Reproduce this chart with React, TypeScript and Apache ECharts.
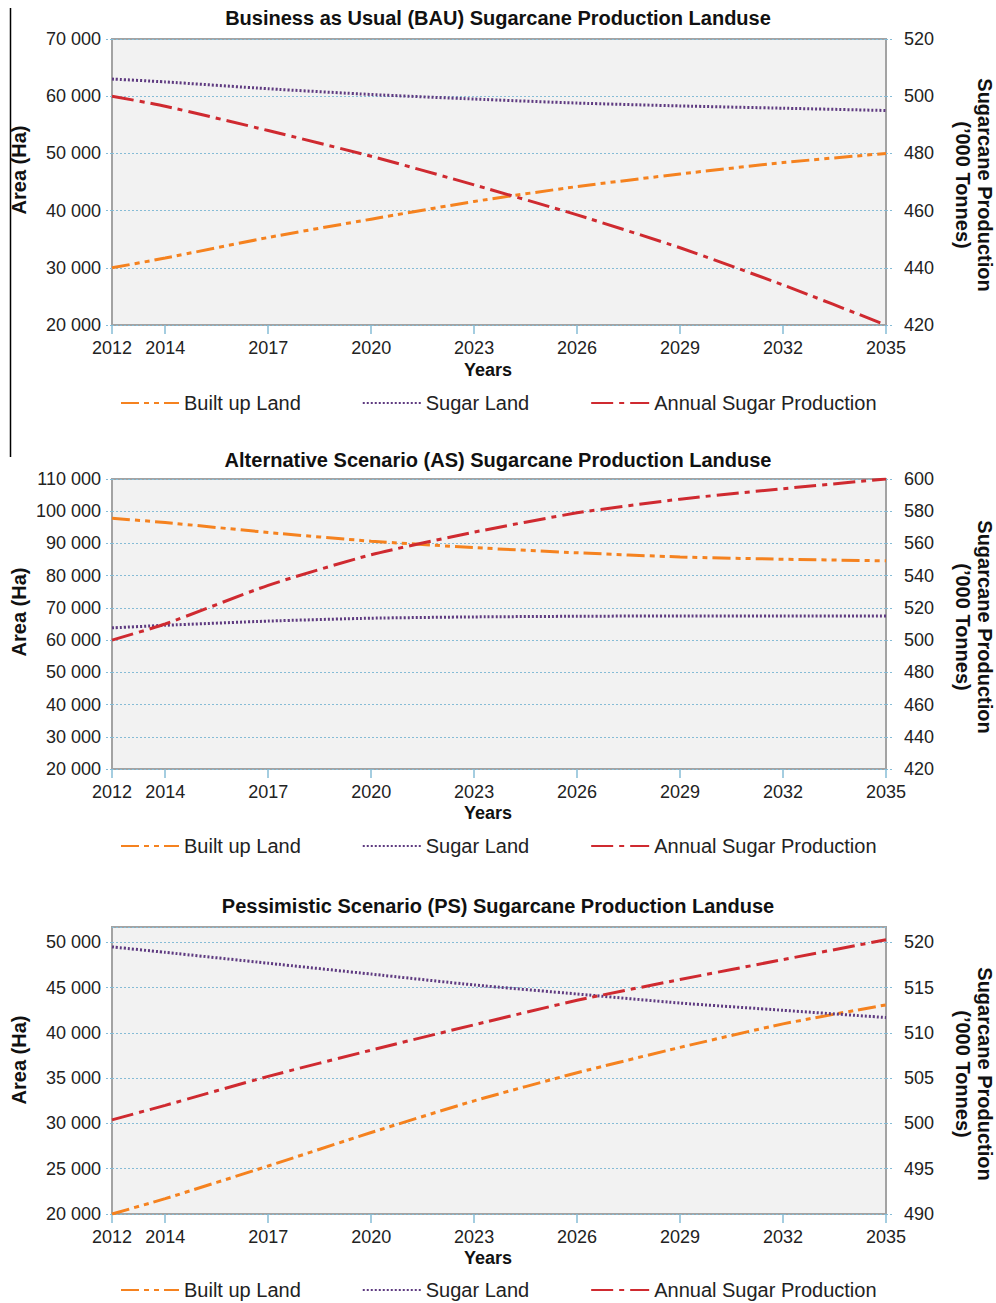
import React, { useEffect, useRef } from "react";
import * as echarts from "echarts";

const years = [2012, 2014, 2017, 2020, 2023, 2026, 2029, 2032, 2035];
const X_MIN = 2012.45;
const X_MAX = 2035;

const titles = [
  "Business as Usual (BAU) Sugarcane Production Landuse",
  "Alternative Scenario (AS) Sugarcane Production Landuse",
  "Pessimistic Scenario (PS) Sugarcane Production Landuse",
];
const seriesNames = ["Built up Land", "Sugar Land", "Annual Sugar Production"];

// BAU
const bauBuilt = [30000, 31700, 35300, 38500, 41600, 44200, 46400, 48400, 50000];
const bauSugar = [63000, 62500, 61300, 60300, 59500, 58800, 58300, 57900, 57500];
const bauProd = [500, 496.5, 488, 479, 469, 458.5, 447, 434, 420];
// AS
const asBuilt = [97800, 96500, 93400, 90700, 88700, 87100, 85800, 85100, 84600];
const asSugar = [63800, 64600, 65900, 66800, 67200, 67400, 67500, 67500, 67500];
const asProd = [500, 510, 534, 553, 567, 579, 587.5, 594, 600];
// PS
const psBuilt = [20000, 21700, 25300, 29000, 32500, 35600, 38400, 41000, 43100];
const psSugar = [49500, 48900, 47700, 46500, 45300, 44300, 43300, 42500, 41700];
const psProd = [500.4, 502.0, 505.2, 508.1, 510.9, 513.6, 515.9, 518.1, 520.3];

// axis ranges
const leftAxes = [
  { min: 20000, max: 70000, interval: 10000 },
  { min: 20000, max: 110000, interval: 10000 },
  { min: 20000, max: 51700, interval: 5000 },
];
const rightAxes = [
  { min: 420, max: 520, interval: 20 },
  { min: 420, max: 600, interval: 20 },
  { min: 490, max: 521.7, interval: 5 },
];

const FONT = "Liberation Sans, Arial, sans-serif";
const ORANGE = "#f5821f";
const PURPLE = "#5e3a80";
const RED = "#cf2a30";
const GRIDBLUE = "#86bcd6";

const grids = [
  { top: 39, height: 286 },
  { top: 479, height: 290 },
  { top: 927, height: 287 },
];
const legendTops = [393, 836, 1280];
const titleTops = [8, 450, 896];
const yearsY = [370, 813, 1258];
const areaY = [170, 612, 1060];
const prodY = [185, 627, 1074];

function fmtThousands(v: number) {
  return String(Math.round(v)).replace(/\B(?=(\d{3})+(?!\d))/g, " ");
}

function pts(vals: number[]) {
  return years.map((y, i) => [Math.max(y, X_MIN), vals[i]]);
}

export default function App() {
  const ref = useRef<HTMLDivElement>(null);
  useEffect(() => {
    document.body.style.margin = "0";
    if (!ref.current) return;
    const chart = echarts.init(ref.current, undefined, { renderer: "svg" });

    const data = [
      [bauBuilt, bauSugar, bauProd],
      [asBuilt, asSugar, asProd],
      [psBuilt, psSugar, psProd],
    ];

    const grid: any[] = [];
    const xAxis: any[] = [];
    const yAxis: any[] = [];
    const series: any[] = [];
    const legend: any[] = [];
    const title: any[] = [];
    const graphic: any[] = [];

    const customX = years.map((y) => Math.max(y, X_MIN));

    for (let c = 0; c < 3; c++) {
      grid.push({
        left: 112,
        width: 774,
        top: grids[c].top,
        height: grids[c].height,
        show: true,
        backgroundColor: "#f2f2f2",
        borderColor: "#a3a3a3",
        borderWidth: 2,
      });
      xAxis.push({
        type: "value",
        gridIndex: c,
        min: X_MIN,
        max: X_MAX,
        axisLine: { show: false },
        splitLine: { show: false },
        axisTick: {
          show: true,
          customValues: customX,
          length: 9,
          lineStyle: { color: GRIDBLUE, width: 1.5 },
        },
        axisLabel: {
          customValues: customX,
          formatter: (v: number) => {
            const i = customX.indexOf(v);
            return i >= 0 ? String(years[i]) : "";
          },
          margin: 14,
          color: "#222",
          fontSize: 18,
          fontFamily: FONT,
        },
      });
      const la = leftAxes[c];
      yAxis.push({
        type: "value",
        gridIndex: c,
        position: "left",
        min: la.min,
        max: la.max,
        interval: la.interval,
        axisLine: { show: false },
        axisTick: { show: true, length: 6, lineStyle: { color: GRIDBLUE, type: [2, 2] } },
        splitLine: { show: true, lineStyle: { color: GRIDBLUE, type: [2, 2], width: 1 } },
        axisLabel: {
          formatter: (v: number) => (v % la.interval === 0 ? fmtThousands(v) : ""),
          showMaxLabel: la.max % la.interval === 0,
          margin: 11,
          color: "#222",
          fontSize: 18,
          fontFamily: FONT,
        },
      });
      const ra = rightAxes[c];
      yAxis.push({
        type: "value",
        gridIndex: c,
        position: "right",
        min: ra.min,
        max: ra.max,
        interval: ra.interval,
        axisLine: { show: false },
        axisTick: { show: true, length: 7, lineStyle: { color: GRIDBLUE, type: [2, 2] } },
        splitLine: { show: false },
        axisLabel: {
          formatter: (v: number) => (Math.abs(v % ra.interval) < 1e-9 ? String(v) : ""),
          showMaxLabel: ra.max % ra.interval === 0,
          margin: 18,
          color: "#222",
          fontSize: 18,
          fontFamily: FONT,
        },
      });

      const [built, sugar, prod] = data[c];
      series.push({
        name: seriesNames[0],
        type: "line",
        xAxisIndex: c,
        yAxisIndex: c * 2,
        data: pts(built),
        smooth: 0.2,
        symbol: "none",
        lineStyle: { color: ORANGE, width: 3, type: [18, 5, 5, 5, 5, 5] },
        itemStyle: { color: ORANGE },
      });
      series.push({
        name: seriesNames[1],
        type: "line",
        xAxisIndex: c,
        yAxisIndex: c * 2,
        data: pts(sugar),
        smooth: 0.2,
        symbol: "none",
        lineStyle: { color: PURPLE, width: 3, type: [2, 2] },
        itemStyle: { color: PURPLE },
      });
      series.push({
        name: seriesNames[2],
        type: "line",
        xAxisIndex: c,
        yAxisIndex: c * 2 + 1,
        data: pts(prod),
        smooth: 0.2,
        symbol: "none",
        lineStyle: { color: RED, width: 3, type: [22, 6, 5, 6] },
        itemStyle: { color: RED },
      });

      legend.push({
        data: seriesNames,
        left: 120,
        top: legendTops[c],
        padding: 0,
        itemGap: 61,
        itemWidth: 58,
        itemHeight: 16,
        selectedMode: false,
        itemStyle: { color: "rgba(0,0,0,0)", borderWidth: 0, opacity: 0 },
        textStyle: { fontSize: 20, color: "#222", fontFamily: FONT },
      });

      title.push({
        text: titles[c],
        left: "center",
        top: titleTops[c],
        padding: 0,
        textStyle: { fontSize: 20, fontWeight: "bold", color: "#111", fontFamily: FONT },
      });

      graphic.push({
        type: "text",
        x: 488,
        y: yearsY[c],
        style: {
          text: "Years",
          fontSize: 18,
          fontWeight: "bold",
          fontFamily: FONT,
          fill: "#111",
          align: "center",
          verticalAlign: "middle",
        },
      });
      graphic.push({
        type: "text",
        x: 19,
        y: areaY[c],
        rotation: Math.PI / 2,
        style: {
          text: "Area (Ha)",
          fontSize: 20,
          fontWeight: "bold",
          fontFamily: FONT,
          fill: "#111",
          align: "center",
          verticalAlign: "middle",
        },
      });
      graphic.push({
        type: "text",
        x: 974,
        y: prodY[c],
        rotation: -Math.PI / 2,
        style: {
          text: "Sugarcane Production\n(\u2019000 Tonnes)",
          fontSize: 20,
          fontWeight: "bold",
          fontFamily: FONT,
          fill: "#111",
          align: "center",
          verticalAlign: "middle",
          lineHeight: 22,
        },
      });
    }

    graphic.push({
      type: "line",
      shape: { x1: 10.5, y1: 8, x2: 10.5, y2: 457 },
      style: { stroke: "#000", lineWidth: 1.5 },
    });

    chart.setOption({
      animation: false,
      backgroundColor: "#fff",
      title,
      grid,
      xAxis,
      yAxis,
      legend,
      series,
      graphic,
    });
    return () => chart.dispose();
  }, []);
  return <div ref={ref} style={{ width: 996, height: 1303 }} />;
}
